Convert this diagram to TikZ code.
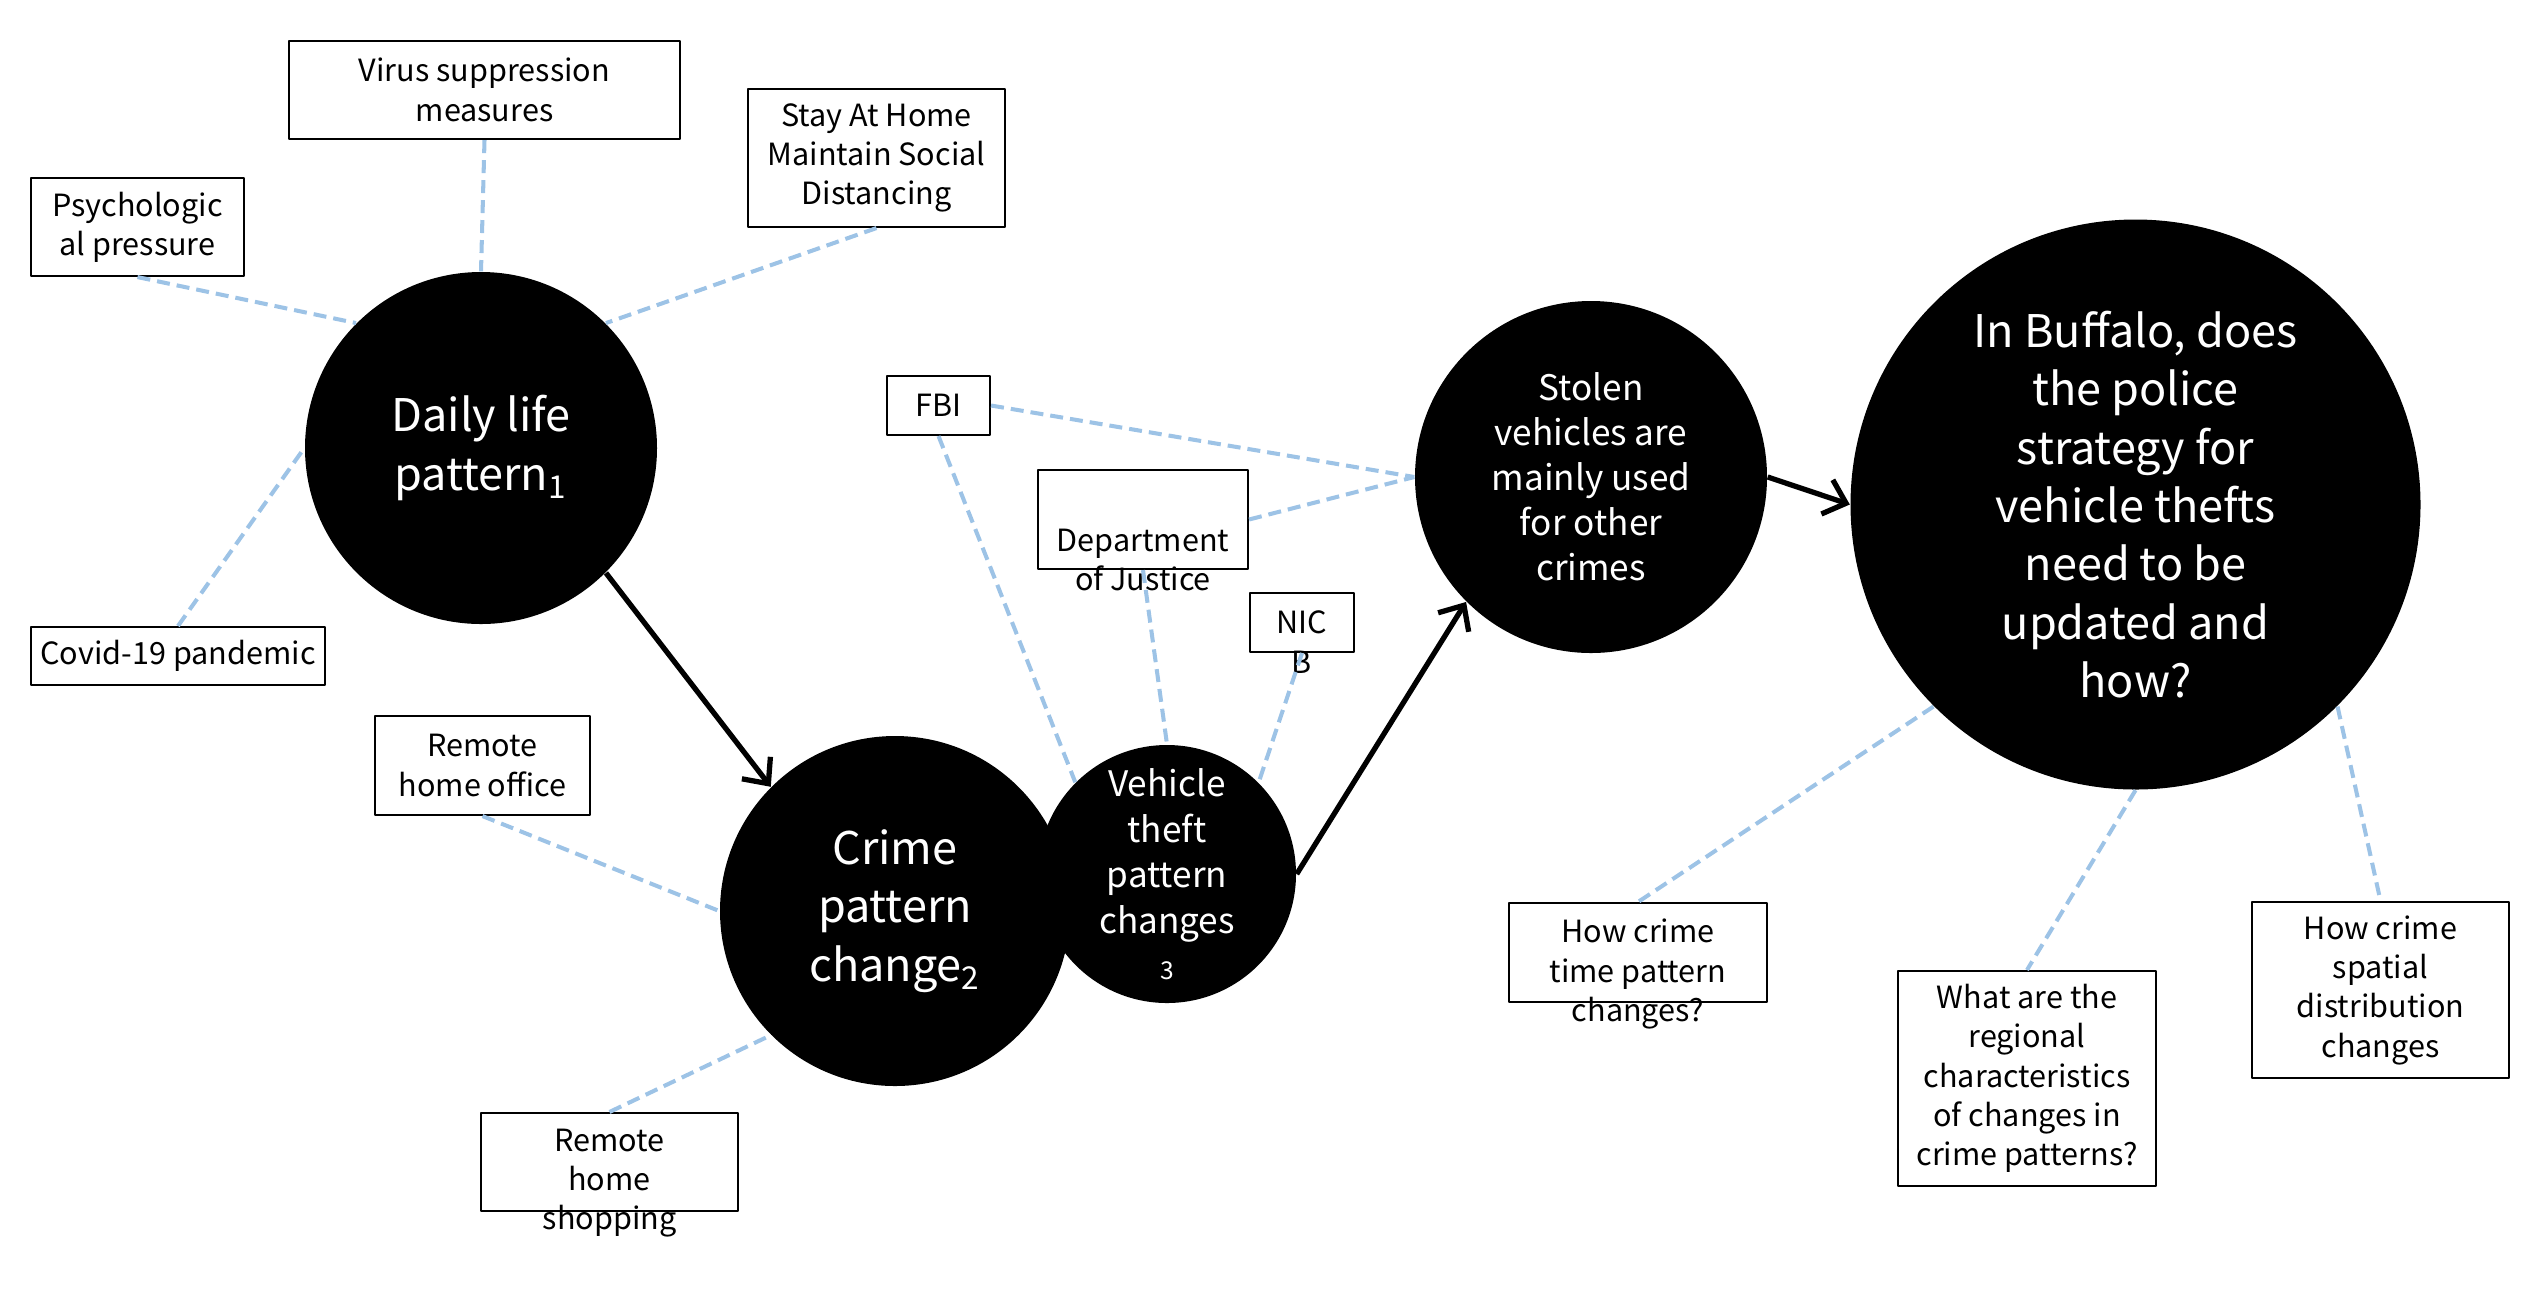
\documentclass[tikz,border=0pt]{standalone}
\usepackage{fontspec}
\setmainfont{Noto Sans CJK SC}
\usetikzlibrary{arrows.meta}
\definecolor{linkblue}{HTML}{9DC3E6}
\begin{document}
\begin{tikzpicture}[x=0.1mm, y=-0.1mm, line join=round, >={Straight Barb[length=2mm,width=3.6mm]},
 bubble/.style={circle, fill=black, text=white, inner sep=0pt, align=center, font=\fontsize{12.8}{16.6}\selectfont},
 box/.style={draw, line width=0.6pt, inner sep=0pt, align=center, font=\fontsize{8.7}{11.2}\selectfont},
 boxtext/.style={inner sep=0pt, align=center, font=\fontsize{8.7}{11.2}\selectfont},
 link/.style={draw=linkblue, line width=1.15pt, dash pattern=on 1.3mm off 0.7mm},
 flow/.style={->, line width=1.5pt}]
 \useasboundingbox (0,0) rectangle (2530,1291);
 \node[bubble, minimum size=35.2mm] (daily) at (481,448) {Daily life\\pattern\textsubscript{1}};
 \node[bubble, minimum size=35mm] (crime) at (895,911) {Crime\\pattern\\change\textsubscript{2}};
 \node[bubble, minimum size=25.8mm, font=\fontsize{10}{13}\selectfont] (vehicle) at (1167,874)
  {Vehicle\\theft\\pattern\\changes\\{\fontsize{7}{13}\selectfont 3}};
 \node[bubble, minimum size=35.2mm, font=\fontsize{10}{12.8}\selectfont] (stolen) at (1591,477)
  {Stolen\\vehicles are\\mainly used\\for other\\crimes};
 \node[bubble, minimum size=57mm] (buffalo) at (2135.5,504.5)
  {In Buffalo, does\\the police\\strategy for\\vehicle thefts\\need to be\\updated and\\how?};
 \node[box, minimum width=21.3mm, minimum height=9.8mm] (psych) at (137.5,227) {Psychologic\\al pressure};
 \node[box, minimum width=39.1mm, minimum height=9.8mm] (virus) at (484.5,90) {Virus suppression\\measures};
 \node[box, minimum width=25.7mm, minimum height=13.8mm] (stay) at (876.5,158) {Stay At Home\\Maintain Social\\Distancing};
 \node[box, minimum width=29.4mm, minimum height=5.8mm] (covid) at (178,656) {Covid-19 pandemic};
 \node[box, minimum width=10.3mm, minimum height=5.9mm] (fbi) at (938.5,405.5) {FBI};
 \node[box, minimum width=21mm, minimum height=9.9mm] (doj) at (1143,519.5) {};
 \node[boxtext] (dojtext) at (1143,560) {Department\\of Justice};
 \node[box, minimum width=10.4mm, minimum height=5.9mm] (nicb) at (1302,622.5) {};
 \node[boxtext] (nicbtext) at (1302,642) {NIC\\B};
 \node[box, minimum width=21.5mm, minimum height=9.9mm] (office) at (482.5,765.5) {Remote\\home office};
 \node[box, minimum width=25.7mm, minimum height=9.8mm] (shop) at (609.5,1162) {};
 \node[boxtext] (shoptext) at (609.5,1183) {Remote\\home\\shopping};
 \node[box, minimum width=25.8mm, minimum height=9.9mm] (time) at (1638,952.5) {};
 \node[boxtext] (timetext) at (1638,974) {How crime\\time pattern\\changes?};
 \node[box, minimum width=25.8mm, minimum height=21.5mm] (region) at (2027,1078.5)
  {What are the\\regional\\characteristics\\of changes in\\crime patterns?};
 \node[box, minimum width=25.7mm, minimum height=17.6mm] (spatial) at (2380.5,990)
  {How crime\\spatial\\distribution\\changes};
 \draw[link] (psych.south) -- (daily.135);
 \draw[link] (virus.south) -- (daily.90);
 \draw[link] (stay.south) -- (daily.45);
 \draw[link] (covid.north) -- (daily.180);
 \draw[link] (office.south) -- (crime.180);
 \draw[link] (shop.north) -- (crime.225);
 \draw[link] (fbi.south) -- (vehicle.135);
 \draw[link] (doj.south) -- (vehicle.90);
 \draw[link] (nicb.south) -- (vehicle.45);
 \draw[link] (fbi.east) -- (stolen.180);
 \draw[link] (doj.east) -- (stolen.180);
 \draw[link] (buffalo.225) -- (time.north);
 \draw[link] (buffalo.270) -- (region.north);
 \draw[link] (buffalo.315) -- (spatial.north);
 \draw[flow] (daily.-45) -- (crime.135);
 \draw[flow] (vehicle.0) -- (stolen.225);
 \draw[flow] (stolen.0) -- (buffalo.180);
\end{tikzpicture}
\end{document}
